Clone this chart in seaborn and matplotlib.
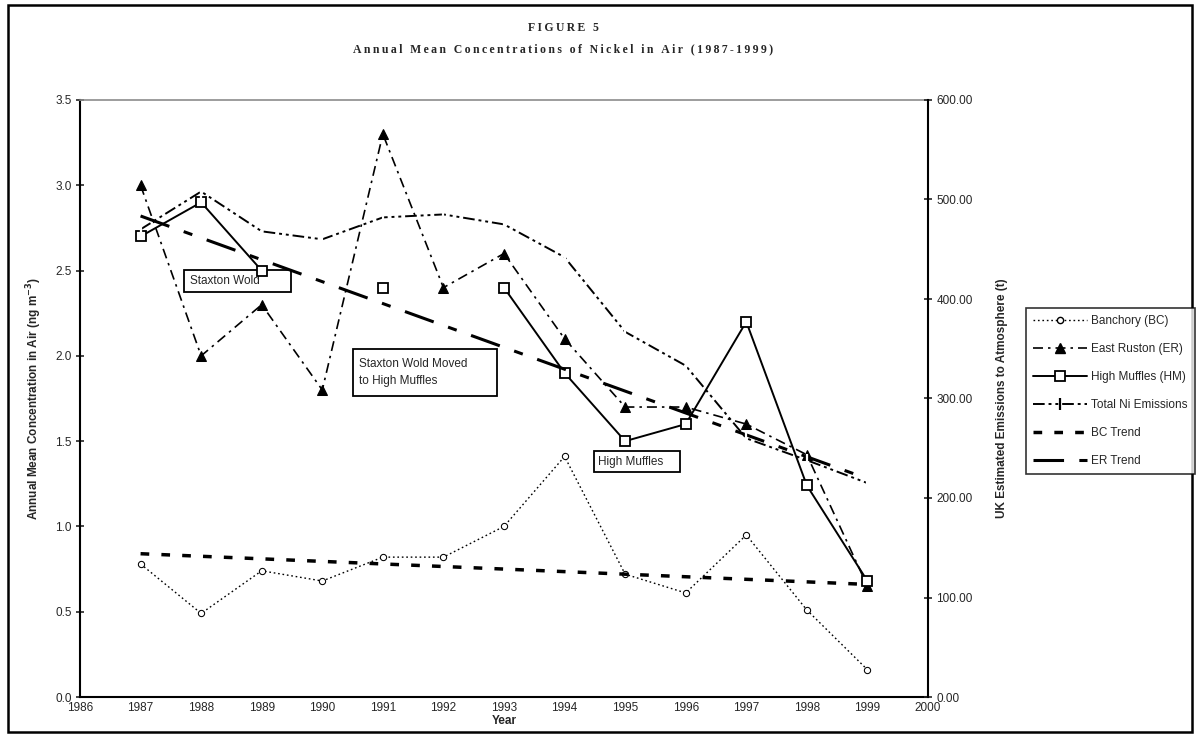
import matplotlib
matplotlib.use("Agg")
import matplotlib.pyplot as plt
from matplotlib.lines import Line2D
from matplotlib.patches import Rectangle
from matplotlib.ticker import FormatStrFormatter, MultipleLocator
import seaborn as sns
import pandas as pd
import numpy as np

# data
years = [1987, 1988, 1989, 1990, 1991, 1992, 1993, 1994, 1995, 1996, 1997, 1998, 1999]
banchory = [0.78, 0.49, 0.74, 0.68, 0.82, 0.82, 1.00, 1.41, 0.72, 0.61, 0.95, 0.51, 0.16]
east_ruston = [3.00, 2.00, 2.30, 1.80, 3.30, 2.40, 2.60, 2.10, 1.70, 1.70, 1.60, 1.42, 0.65]
high_muffles = [2.70, 2.90, 2.50, np.nan, 2.40, np.nan, 2.40, 1.90, 1.50, 1.60, 2.20, 1.24, 0.68]
hm_segment = [0, 0, 0, 0, 1, 1, 2, 2, 2, 2, 2, 2, 2]
total_ni = [470, 508, 468, 460, 482, 485, 475, 442, 367, 333, 260, 238, 215]
trend_years = [1987, 1999]
bc_trend = [0.84, 0.66]
er_trend = [2.82, 1.28]

sns.set_style("white")
plt.rcParams["font.family"] = ["Liberation Sans", "DejaVu Sans"]

fig = plt.figure(figsize=(11.99, 7.40), dpi=100)
ax = fig.add_axes([80 / 1199, 1 - 697 / 740, (928 - 80) / 1199, (697 - 100) / 740])
ax2 = ax.twinx()

df = pd.DataFrame({"Year": years, "BC": banchory, "ER": east_ruston,
                   "HM": high_muffles, "seg": hm_segment, "Total": total_ni})
tr = pd.DataFrame({"Year": trend_years, "BC": bc_trend, "ER": er_trend})

#styles for each series
bc_ls = (0, (1.2, 2))
er_ls = (0, (6, 3, 1.5, 3))
tot_ls = (0, (6, 2, 1.5, 2, 1.5, 2))
bct_ls = (0, (2.5, 3.5))
ert_ls = (0, (10, 5, 3, 5))

sns.lineplot(x="Year", y="BC", data=df, ax=ax, color="black", lw=1, linestyle=bc_ls,
             marker="o", markersize=4.5, markerfacecolor="white", markeredgecolor="black")
sns.lineplot(x="Year", y="ER", data=df, ax=ax, color="black", lw=1.2, linestyle=er_ls,
             marker="^", markersize=7, markeredgecolor="black")
sns.lineplot(x="Year", y="HM", data=df.dropna(), ax=ax, units="seg", estimator=None,
             color="black", lw=1.4, marker="s", markersize=7,
             markerfacecolor="white", markeredgecolor="black", markeredgewidth=1.3)
sns.lineplot(x="Year", y="BC", data=tr, ax=ax, color="black", lw=2.5, linestyle=bct_ls)
sns.lineplot(x="Year", y="ER", data=tr, ax=ax, color="black", lw=2.2, linestyle=ert_ls)
sns.lineplot(x="Year", y="Total", data=df, ax=ax2, color="black", lw=1.4, linestyle=tot_ls,
             marker="|", markersize=9, markeredgewidth=1.6)

#axes setup
ax.set_xlim(1986, 2000)
ax.set_ylim(0, 3.5)
ax2.set_ylim(0, 600)
ax.xaxis.set_major_locator(MultipleLocator(1))
ax.yaxis.set_major_locator(MultipleLocator(0.5))
ax2.yaxis.set_major_locator(MultipleLocator(100))
ax.yaxis.set_major_formatter(FormatStrFormatter("%.1f"))
ax2.yaxis.set_major_formatter(FormatStrFormatter("%.2f"))
ax.tick_params(axis="both", direction="inout", length=6, width=1.2, labelsize=8.5, pad=3)
ax.tick_params(axis="x", length=4, pad=1.5)
ax2.tick_params(axis="y", direction="inout", length=6, width=1.2, labelsize=8.5, pad=3)

for sp in ["left", "bottom"]:
    ax.spines[sp].set_linewidth(1.5)
    ax.spines[sp].set_color("black")
ax.spines["right"].set_visible(False)
ax.spines["top"].set_color("#8c8c8c")
ax.spines["top"].set_linewidth(1.2)
ax2.spines["right"].set_linewidth(1.5)
ax2.spines["right"].set_color("black")
for sp in ["left", "bottom", "top"]:
    ax2.spines[sp].set_visible(False)

ax.set_xlabel("Year", fontsize=8.5, fontweight="bold", labelpad=1)
ax.set_ylabel("Annual Mean Concentration in Air (ng m$^{\\mathbf{-3}}$)", fontsize=8.5,
              fontweight="bold", labelpad=8)
ax2.set_ylabel("UK Estimated Emissions to Atmosphere (t)", fontsize=8.5,
               fontweight="bold", labelpad=17)

#annotation boxes (x0, x1, y0, y1 in data units), drawn under the lines
def note(x0, x1, y0, y1, tx, text):
    ax.add_patch(Rectangle((x0, y0), x1 - x0, y1 - y0, fc="white", ec="black", lw=1.3,
                           zorder=1.5))
    ax.text(tx, (y0 + y1) / 2, text, fontsize=8.5, va="center", ha="left",
            linespacing=1.6, zorder=1.6)

note(1987.71, 1989.48, 2.374, 2.503, 1987.82, "Staxton Wold")
note(1990.51, 1992.88, 1.764, 2.04, 1990.61, "Staxton Wold Moved\nto High Muffles")
note(1994.49, 1995.91, 1.319, 1.442, 1994.56, "High Muffles")

#titles, letter spaced
def spaced(s):
    return "\u2009".join(s)

serif = ["Liberation Serif", "DejaVu Serif"]
fig.text(563 / 1199, 1 - 28 / 740, spaced("FIGURE 5"), ha="center", va="center",
         fontsize=8.5, fontweight="bold", family=serif)
fig.text(563 / 1199, 1 - 49 / 740, spaced("Annual Mean Concentrations of Nickel in Air (1987-1999)"),
         ha="center", va="center", fontsize=8.5, fontweight="bold", family=serif)

#legend
handles = [
    Line2D([], [], color="black", lw=1, linestyle=bc_ls, marker="o", markersize=4.5,
           markerfacecolor="white"),
    Line2D([], [], color="black", lw=1.2, linestyle=er_ls, marker="^", markersize=7),
    Line2D([], [], color="black", lw=1.4, marker="s", markersize=7, markerfacecolor="white",
           markeredgewidth=1.3),
    Line2D([], [], color="black", lw=1.4, linestyle=tot_ls, marker="|", markersize=9,
           markeredgewidth=1.6),
    Line2D([], [], color="black", lw=2.5, linestyle=bct_ls),
    Line2D([], [], color="black", lw=2.2, linestyle=ert_ls),
]
labels = ["Banchory (BC)", "East Ruston (ER)", "High Muffles (HM)", "Total Ni Emissions",
          "BC Trend", "ER Trend"]
leg = fig.legend(handles, labels, loc="upper left", bbox_to_anchor=(1026 / 1199, 1 - 308 / 740),
                 fontsize=8.5, frameon=True, fancybox=False, handlelength=4.6,
                 handletextpad=0.3, labelspacing=1.35, borderpad=0.6, borderaxespad=0)
leg.get_frame().set_edgecolor("black")
leg.get_frame().set_linewidth(1.2)

#outer border
fig.patches.append(Rectangle((8 / 1199, 8 / 740), 1184 / 1199, 727 / 740, transform=fig.transFigure,
                             fill=False, ec="black", lw=1.8))

fig.savefig("out.png", dpi=100)
